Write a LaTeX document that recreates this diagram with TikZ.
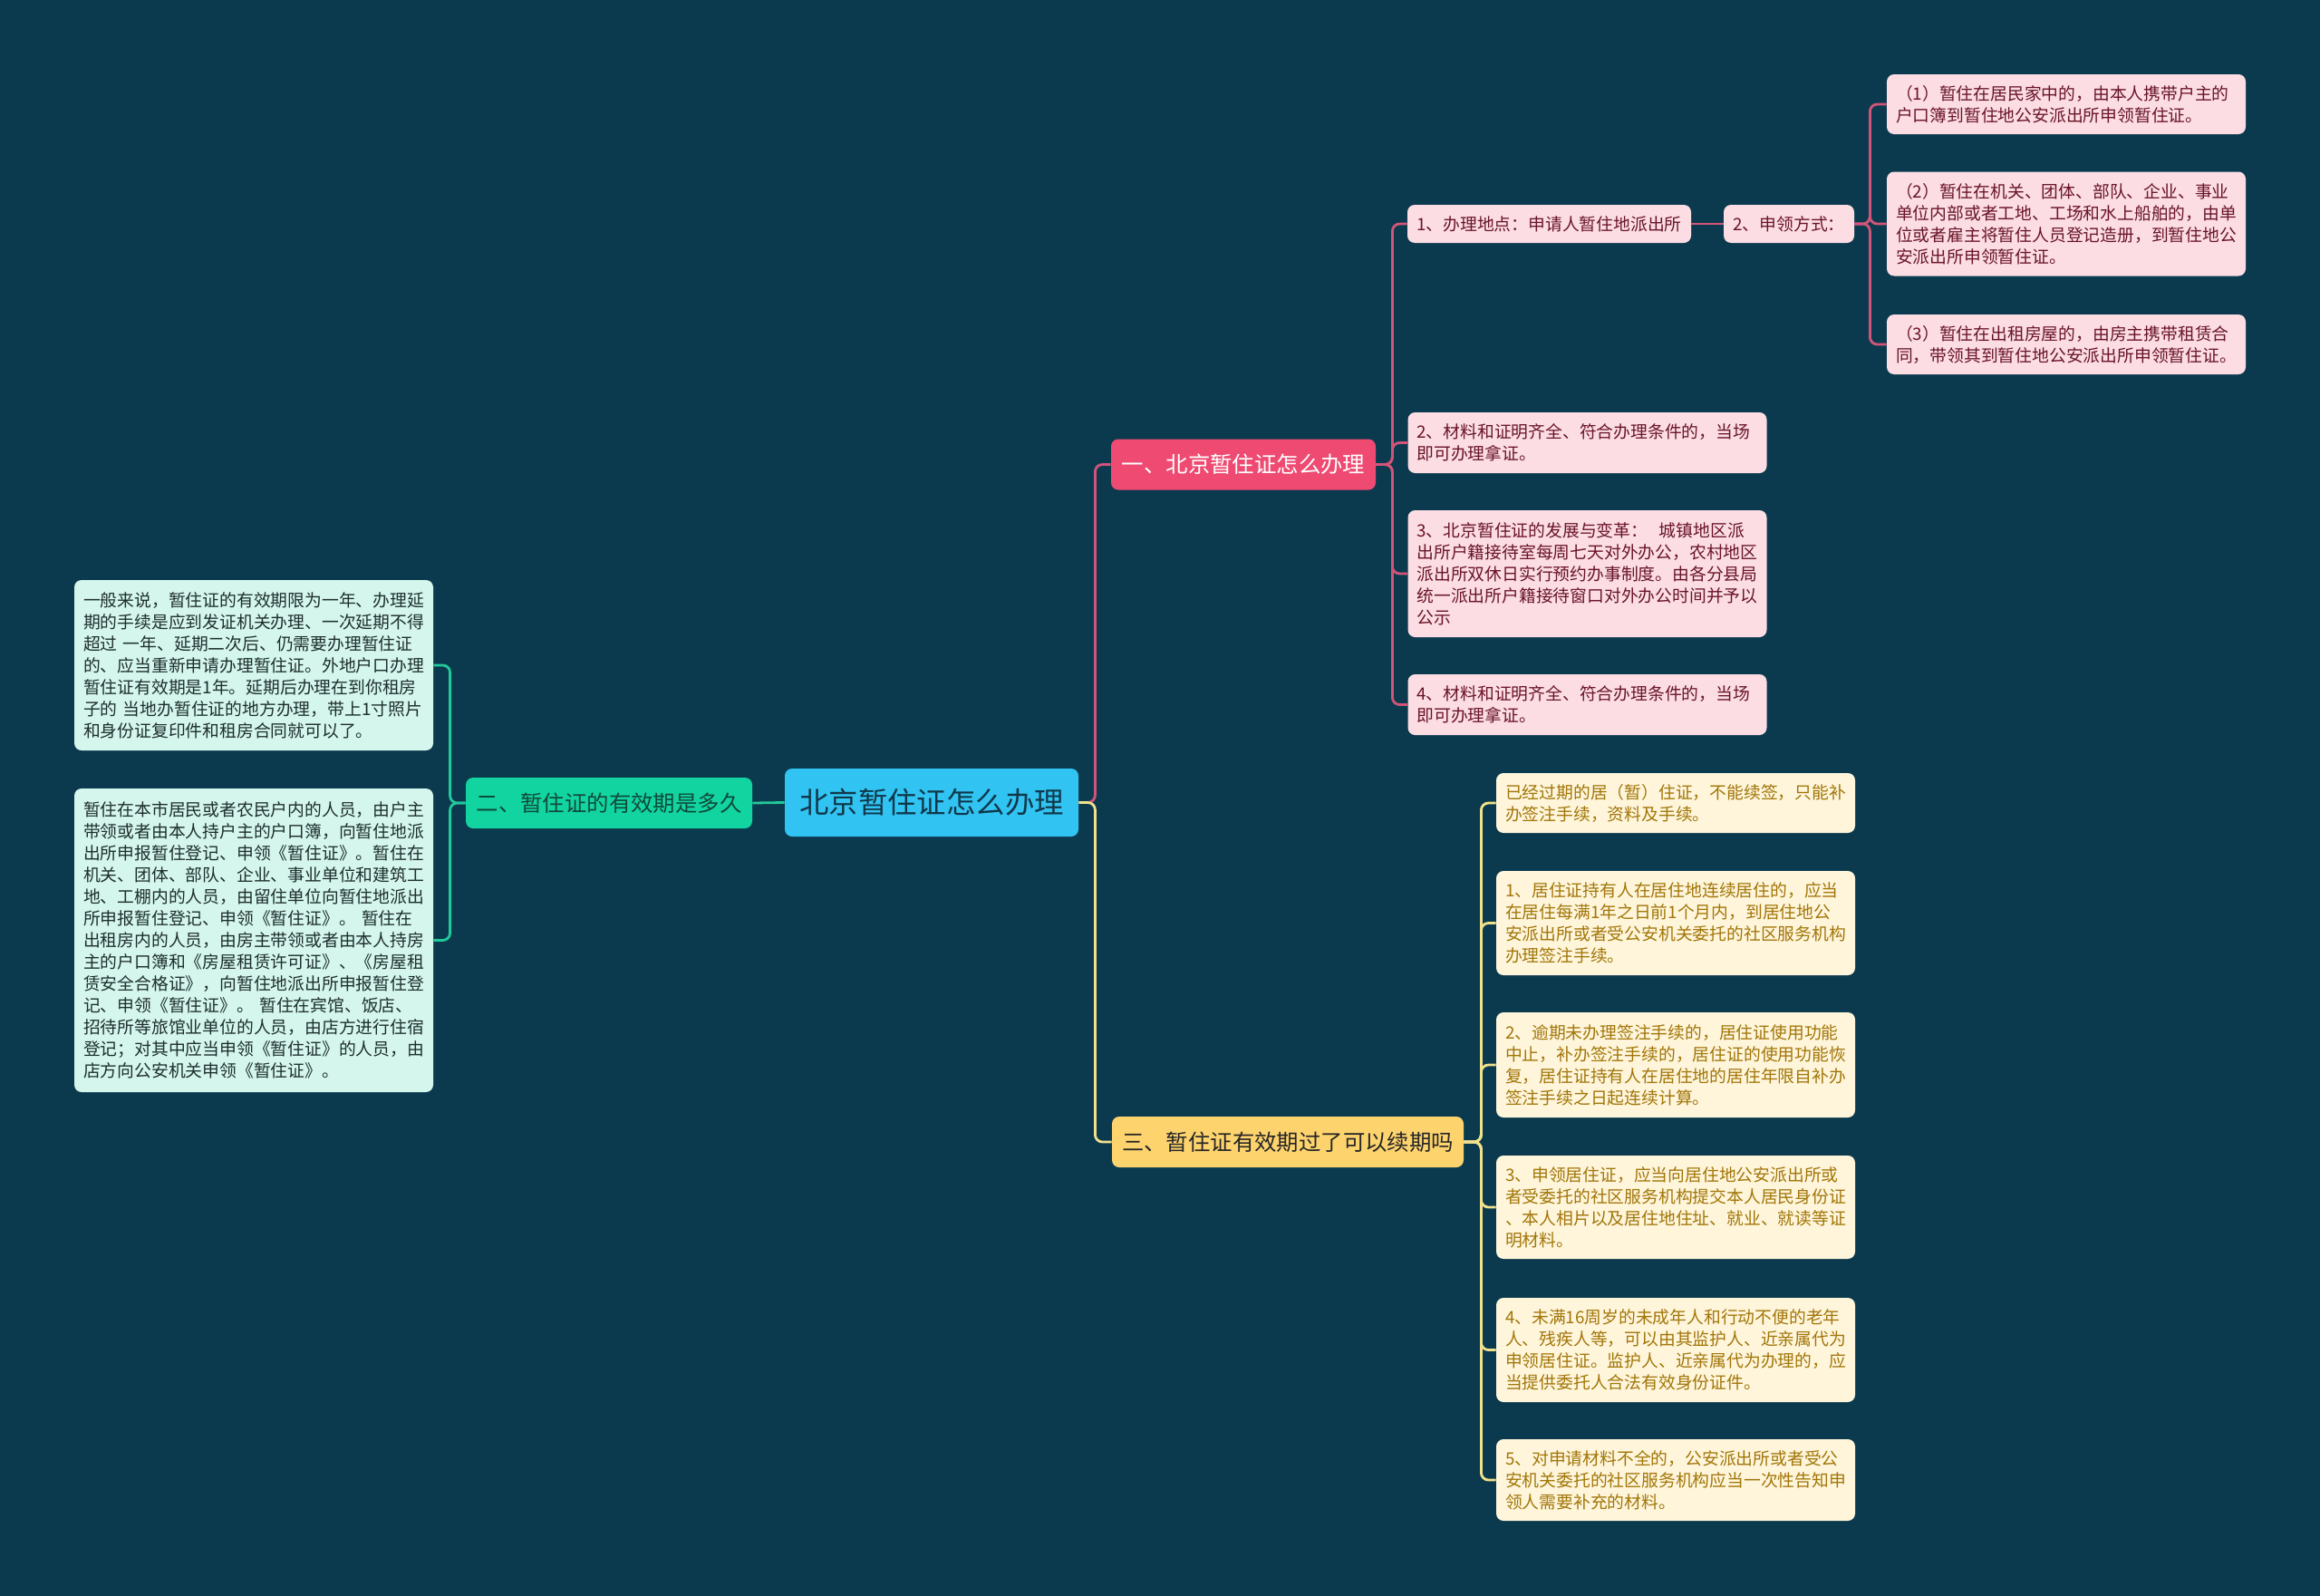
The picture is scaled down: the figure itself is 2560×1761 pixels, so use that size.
\documentclass[tikz,border=0pt]{standalone}
\usepackage{fontspec}
\newfontfamily\cjk{Noto Sans CJK SC}
\definecolor{bgteal}{HTML}{0B3A4E}
\definecolor{rootblue}{HTML}{31C4F3}
\definecolor{roottext}{HTML}{10384A}
\definecolor{rosered}{HTML}{EE4A72}
\definecolor{roseline}{HTML}{D25479}
\definecolor{roseleaf}{HTML}{FBDDE3}
\definecolor{rosetext}{HTML}{6A1428}
\definecolor{mintgreen}{HTML}{12D4A0}
\definecolor{mintline}{HTML}{22C99A}
\definecolor{mintleaf}{HTML}{D4F6EC}
\definecolor{minttext}{HTML}{0F4A3A}
\definecolor{mintleaftext}{HTML}{1E2E2E}
\definecolor{sunyellow}{HTML}{FDD36E}
\definecolor{sunline}{HTML}{F2E18C}
\definecolor{sunleaf}{HTML}{FEF5DB}
\definecolor{suntext}{HTML}{A27608}

\begin{document}
\begin{tikzpicture}[x=0.5pt, y=-0.5pt,
    box/.style={rounded corners=4pt, inner xsep=5pt, inner ysep=2pt},
    rootbox/.style={box, fill=rootblue, text=roottext, font=\cjk\fontsize{16.2}{19}\selectfont,
      minimum width=162pt, minimum height=37.5pt},
    topic/.style={box, font=\cjk\fontsize{12.2}{14}\selectfont, minimum height=28pt},
    leaf/.style={box, font=\cjk\fontsize{9.4}{12}\selectfont, text width=188pt, align=left},
    shortleaf/.style={box, font=\cjk\fontsize{9.4}{12}\selectfont, minimum height=21pt},
    roseedge/.style={draw=roseline, line width=1.4pt, rounded corners=4pt},
    mintedge/.style={draw=mintline, line width=1.4pt, rounded corners=4pt},
    sunedge/.style={draw=sunline, line width=1.4pt, rounded corners=4pt}]
  % fondo
  \fill[bgteal] (0,0) rectangle (2560,1761);

  % centro
  \node[rootbox] (root) at (1028,885.5) {北京暂住证怎么办理};

  % rama uno
  \node[topic, fill=rosered, text=white, minimum width=146pt] (one) at (1372,512.5) {一、北京暂住证怎么办理};
  \node[shortleaf, fill=roseleaf, text=rosetext, minimum width=156.5pt] (p1) at (1709.5,247) {1、办理地点：申请人暂住地派出所};
  \node[shortleaf, fill=roseleaf, text=rosetext, minimum width=72pt] (p1b) at (1974,247) {2、申领方式：};
  \node[leaf, fill=roseleaf, text=rosetext, minimum height=33pt] (q1) at (2280,115) {（1）暂住在居民家中的，由本人携带户主的\\户口簿到暂住地公安派出所申领暂住证。};
  \node[leaf, fill=roseleaf, text=rosetext, minimum height=57.5pt] (q2) at (2280,247) {（2）暂住在机关、团体、部队、企业、事业\\单位内部或者工地、工场和水上船舶的，由单\\位或者雇主将暂住人员登记造册，到暂住地公\\安派出所申领暂住证。};
  \node[leaf, fill=roseleaf, text=rosetext, minimum height=33pt] (q3) at (2280,380) {（3）暂住在出租房屋的，由房主携带租赁合\\同，带领其到暂住地公安派出所申领暂住证。};
  \node[leaf, fill=roseleaf, text=rosetext, minimum height=33.5pt] (p2) at (1751.5,488.5) {2、材料和证明齐全、符合办理条件的，当场\\即可办理拿证。};
  \node[leaf, fill=roseleaf, text=rosetext, minimum height=70pt] (p3) at (1751.5,633) {3、北京暂住证的发展与变革：\ \ 城镇地区派\\出所户籍接待室每周七天对外办公，农村地区\\派出所双休日实行预约办事制度。由各分县局\\统一派出所户籍接待窗口对外办公时间并予以\\公示};
  \node[leaf, fill=roseleaf, text=rosetext, minimum height=33.5pt] (p4) at (1751.5,777.5) {4、材料和证明齐全、符合办理条件的，当场\\即可办理拿证。};

  % rama dos
  \node[topic, fill=mintgreen, text=minttext, minimum width=158pt] (two) at (672,886) {二、暂住证的有效期是多久};
  \node[leaf, fill=mintleaf, text=mintleaftext, minimum height=94pt] (g1) at (280,734) {一般来说，暂住证的有效期限为一年、办理延\\期的手续是应到发证机关办理、一次延期不得\\超过 一年、延期二次后、仍需要办理暂住证\\的、应当重新申请办理暂住证。外地户口办理\\暂住证有效期是1年。延期后办理在到你租房\\子的 当地办暂住证的地方办理，带上1寸照片\\和身份证复印件和租房合同就可以了。};
  \node[leaf, fill=mintleaf, text=mintleaftext, minimum height=167.5pt] (g2) at (280,1037.5) {暂住在本市居民或者农民户内的人员，由户主\\带领或者由本人持户主的户口簿，向暂住地派\\出所申报暂住登记、申领《暂住证》。暂住在\\机关、团体、部队、企业、事业单位和建筑工\\地、工棚内的人员，由留住单位向暂住地派出\\所申报暂住登记、申领《暂住证》。 暂住在\\出租房内的人员，由房主带领或者由本人持房\\主的户口簿和《房屋租赁许可证》、《房屋租\\赁安全合格证》，向暂住地派出所申报暂住登\\记、申领《暂住证》。 暂住在宾馆、饭店、\\招待所等旅馆业单位的人员，由店方进行住宿\\登记；对其中应当申领《暂住证》的人员，由\\店方向公安机关申领《暂住证》。};

  % rama tres
  \node[topic, fill=sunyellow, text=black!85, minimum width=194pt] (three) at (1421,1260) {三、暂住证有效期过了可以续期吗};
  \node[leaf, fill=sunleaf, text=suntext, minimum height=33pt] (y0) at (1849,886) {已经过期的居（暂）住证，不能续签，只能补\\办签注手续，资料及手续。};
  \node[leaf, fill=sunleaf, text=suntext, minimum height=57.5pt] (y1) at (1849,1018.5) {1、居住证持有人在居住地连续居住的，应当\\在居住每满1年之日前1个月内，到居住地公\\安派出所或者受公安机关委托的社区服务机构\\办理签注手续。};
  \node[leaf, fill=sunleaf, text=suntext, minimum height=58pt] (y2) at (1849,1175) {2、逾期未办理签注手续的，居住证使用功能\\中止，补办签注手续的，居住证的使用功能恢\\复，居住证持有人在居住地的居住年限自补办\\签注手续之日起连续计算。};
  \node[leaf, fill=sunleaf, text=suntext, minimum height=57pt] (y3) at (1849,1332) {3、申领居住证，应当向居住地公安派出所或\\者受委托的社区服务机构提交本人居民身份证\\、本人相片以及居住地住址、就业、就读等证\\明材料。};
  \node[leaf, fill=sunleaf, text=suntext, minimum height=57.5pt] (y4) at (1849,1489.5) {4、未满16周岁的未成年人和行动不便的老年\\人、残疾人等，可以由其监护人、近亲属代为\\申领居住证。监护人、近亲属代为办理的，应\\当提供委托人合法有效身份证件。};
  \node[leaf, fill=sunleaf, text=suntext, minimum height=45pt] (y5) at (1849,1633) {5、对申请材料不全的，公安派出所或者受公\\安机关委托的社区服务机构应当一次性告知申\\领人需要补充的材料。};

  % conectores
  \draw[roseedge] (root.east) -- ++(18,0) |- (one.west);
  \draw[sunedge] (root.east) -- ++(18,0) |- (three.west);
  \draw[mintedge] (root.west) -- (two.east);
  \foreach \n in {g1,g2}
    \draw[mintedge] (two.west) -- ++(-17,0) |- (\n.east);
  \foreach \n in {p1,p2,p3,p4}
    \draw[roseedge] (one.east) -- ++(18,0) |- (\n.west);
  \draw[roseedge] (p1.east) -- (p1b.west);
  \foreach \n in {q1,q2,q3}
    \draw[roseedge] (p1b.east) -- ++(17,0) |- (\n.west);
  \foreach \n in {y0,y1,y2,y3,y4,y5}
    \draw[sunedge] (three.east) -- ++(19,0) |- (\n.west);
\end{tikzpicture}
\end{document}
